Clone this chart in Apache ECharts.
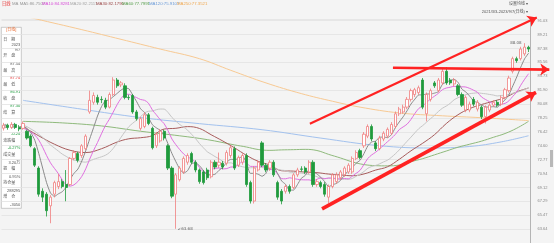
<!DOCTYPE html>
<html><head><meta charset="utf-8">
<script src="https://cdn.jsdelivr.net/npm/echarts@6/dist/echarts.min.js"></script>
<style>html,body{margin:0;padding:0;background:#f4f4f4}#c{width:554px;height:243px}</style>
</head><body><div id="c"></div>
<script>
// candles: [open, close, low, high]
const ohlc = [
[76.9,77.3,76.6,77.6],[77.3,77.0,76.7,77.5],[77.0,77.4,76.8,77.7],[77.4,77.0,76.8,77.6],[77.0,76.8,76.5,77.3],
[76.88,77.52,76.7,77.8],[76.50,75.61,75.4,76.7],[75.86,74.59,74.4,76.1],[74.21,72.04,71.8,74.4],[71.66,68.23,67.9,71.9],
[68.61,67.84,67.2,69.0],[68.23,66.06,65.30,68.5],[66.70,67.84,64.41,68.1],[68.23,69.75,67.8,70.0],[69.24,69.88,68.9,70.9],
[69.88,69.24,69.0,70.2],[69.50,69.11,67.3,71.4],[69.50,72.93,69.3,73.1],[72.93,73.70,72.7,74.0],[73.57,72.68,72.4,73.8],
[73.31,74.59,73.0,74.8],[74.21,75.86,74.0,76.1],[79.04,80.56,78.79,81.84],[80.31,81.20,80.0,81.6],[80.95,80.31,80.0,81.3],
[80.69,80.65,80.2,81.1],[80.56,79.67,79.4,80.9],[79.67,81.33,79.5,81.6],[81.33,83.23,81.1,83.6],[83.23,82.47,82.2,83.5],
[82.60,82.85,82.3,83.1],[82.47,80.95,80.7,82.8],[80.95,80.90,80.6,81.3],[81.20,79.04,78.8,81.4],[79.04,78.15,77.9,79.3],
[76.88,78.15,76.6,78.4],[77.13,78.66,76.9,79.0],[78.66,77.52,77.3,78.9],[76.88,74.33,74.1,77.1],[74.59,76.11,74.3,76.4],
[75.23,76.50,75.0,76.8],[76.50,75.61,75.3,76.7],[74.59,71.66,71.4,74.8],[71.66,67.97,67.7,71.9],[68.23,70.77,63.68,71.0],
[70.13,71.66,69.9,71.9],[71.15,72.93,70.9,73.2],[72.43,73.31,72.1,73.6],[73.57,72.43,72.2,73.8],[72.43,71.41,71.1,72.7],
[71.41,69.88,69.6,71.6],[71.15,69.75,69.5,71.4],[71.41,70.39,70.1,71.7],[70.52,72.43,70.3,72.7],[72.43,71.79,71.5,72.7],
[72.04,72.43,71.7,73.7],[72.30,71.79,71.5,72.6],[72.30,73.70,72.0,74.0],[73.31,74.33,73.0,74.6],[74.21,71.66,71.4,74.5],
[72.04,73.06,71.8,73.3],[72.43,73.31,72.1,73.6],[73.31,69.50,69.2,73.6],[69.75,67.33,67.0,70.0],[67.33,71.66,67.0,71.9],
[71.41,72.43,71.2,72.7],[74.97,72.04,71.8,75.2],[72.04,71.41,71.1,72.3],[71.66,72.43,71.3,72.7],[72.43,70.77,70.5,72.7],
[69.75,67.84,67.5,70.0],[68.61,67.33,66.9,68.9],[68.61,69.24,68.3,69.5],[69.24,68.61,68.3,69.5],[69.11,70.77,68.9,71.0],
[70.77,71.41,70.5,71.7],[71.55,71.50,71.2,71.9],[71.66,71.15,70.9,71.9],[71.15,72.43,70.9,72.7],[72.43,69.50,69.2,72.7],
[69.50,69.88,69.2,70.2],[69.75,69.24,69.0,70.0],[69.50,68.23,67.9,69.8],[67.84,69.24,67.0,69.5],[69.24,70.77,69.0,71.0],
[69.88,70.77,69.6,71.1],[70.39,71.15,70.1,71.4],[70.77,71.66,70.5,71.9],[71.15,72.04,70.9,72.3],[71.15,72.93,70.9,73.2],
[72.93,73.70,72.7,74.0],[73.95,73.06,72.8,74.2],[74.59,76.11,74.3,76.4],[75.86,77.13,75.6,77.4],[77.13,75.48,75.2,77.4],
[74.97,74.21,73.9,75.2],[74.21,75.61,74.0,75.9],[75.48,76.24,75.2,76.5],[75.86,76.75,75.6,77.0],[76.24,77.39,76.0,77.7],
[77.13,78.79,76.9,79.1],[78.79,79.42,78.5,79.7],[79.04,79.67,78.8,80.0],[79.67,80.69,79.4,81.0],[80.69,81.84,80.4,82.1],
[81.33,81.96,81.0,82.2],[81.58,82.22,81.3,82.5],[83.23,79.67,79.4,83.5],[78.79,81.33,77.8,81.6],[80.69,81.84,80.4,82.1],
[82.85,82.47,82.2,83.1],[81.84,83.23,81.6,83.5],[82.85,84.38,82.6,84.7],[84.38,82.85,82.6,84.9],[83.23,82.85,82.6,83.5],
[82.72,83.23,82.4,83.5],[82.47,81.33,81.1,82.7],[81.33,79.93,79.7,81.6],[79.29,80.95,79.0,81.2],[79.29,80.06,79.0,80.4],
[80.69,80.06,79.8,81.0],[79.42,80.31,79.1,80.6],[79.67,78.41,78.1,79.9],[78.41,79.67,77.52,79.9],[79.29,79.93,79.0,80.2],
[79.93,80.31,79.7,80.6],[80.31,79.93,79.7,80.6],[80.06,80.95,79.8,81.2],[80.95,81.96,80.7,82.2],[81.84,83.49,81.6,83.8],
[84.38,86.04,84.1,86.3],[86.04,85.78,85.5,86.3],[86.04,87.30,85.8,87.6],[86.67,87.56,86.4,88.08],[87.54,87.30,86.91,87.74]
];
const categories = ohlc.map((d, i) => String(i));

const yTickLabels = ['63.64','65.47','67.29','69.12','70.94','72.77','74.60','76.42','78.25','80.08','81.90','83.73','85.56','87.38','89.21','91.03'];

const ma5Start = 4;
const ma5 = [77.10,77.14,76.87,76.30,75.31,73.60,71.66,69.75,68.40,67.94,68.27,68.55,69.16,70.18,70.97,71.53,72.60,73.95,75.48,76.98,
78.50,79.72,80.48,80.63,81.04,81.47,81.91,82.17,82.08,81.24,80.38,79.44,78.98,78.30,77.36,76.95,76.62,76.01,74.84,73.57,
72.50,71.53,71.00,71.33,72.22,72.35,71.99,71.36,70.77,70.77,70.85,71.36,71.77,72.43,72.81,72.78,72.91,73.21,72.37,70.97,
70.97,70.85,70.59,70.97,71.99,71.82,70.90,69.96,69.52,68.76,68.76,69.47,70.31,70.69,71.45,71.20,70.89,70.44,69.86,69.22,
69.47,69.65,70.03,70.72,71.28,71.71,72.30,72.68,73.57,74.59,75.10,75.20,75.71,75.73,75.66,76.04,76.96,77.72,78.40,79.19,
80.08,80.72,81.28,81.28,81.40,81.40,81.51,81.71,82.65,82.95,83.16,83.31,82.93,82.04,81.66,81.10,80.47,80.26,79.96,79.70,
79.68,79.73,79.65,80.16,80.62,81.33,82.47,83.64,84.91,86.03,86.75];

const ma10Start = 5;
const ma10 = [76.9,76.7,76.4,76.0,75.35,74.40,73.31,72.35,71.63,70.94,70.11,69.46,69.29,69.46,69.90,70.58,71.56,72.83,73.98,75.02,
76.16,77.22,78.06,79.01,79.99,80.81,81.32,81.36,81.14,80.92,80.67,80.57,80.19,79.30,78.67,78.03,77.50,76.57,75.47,74.73,
74.08,73.51,73.09,72.90,72.43,71.76,71.18,71.05,71.50,71.60,71.68,71.56,71.60,71.79,71.82,72.13,72.49,72.40,71.89,71.88,
71.88,71.90,71.67,71.48,71.39,70.87,70.27,70.25,70.38,70.29,70.19,70.13,70.11,70.11,69.98,70.18,70.37,70.27,70.34,70.34,
70.27,70.24,70.29,70.25,70.59,70.97,71.36,72.14,72.93,73.40,73.75,74.19,74.65,75.12,75.57,76.08,76.71,77.07,77.43,78.06,
78.84,79.50,79.84,80.30,80.74,81.11,81.49,81.96,82.18,82.28,82.41,82.32,82.34,82.31,82.13,81.89,81.60,81.00,80.68,80.39,
80.10,79.96,80.06,80.16,80.50,81.10,81.65,82.54,83.33,84.06];

const ma20Start = 5;
const ma20 = [77.3,77.1,76.8,76.5,76.1,75.7,75.2,74.7,74.3,73.9,73.5,73.2,72.9,72.7,
72.63,72.49,72.44,72.59,72.81,72.98,73.14,73.34,73.68,74.24,74.95,75.70,76.44,77.10,77.56,77.97,78.42,78.90,79.13,79.16,
79.33,79.42,79.41,78.97,78.31,77.83,77.38,77.04,76.64,76.10,75.55,74.90,74.34,73.81,73.49,73.17,72.88,72.54,72.35,72.35,
72.13,71.95,71.84,71.73,71.70,71.74,71.78,71.73,71.64,71.64,71.61,71.50,71.38,71.33,71.14,71.09,71.04,71.02,70.89,70.80,
70.69,70.53,70.32,70.26,70.36,70.32,70.23,70.19,70.20,70.18,70.29,70.58,70.87,71.21,71.64,71.87,72.01,72.22,72.47,72.69,
73.08,73.53,74.04,74.61,75.18,75.73,76.30,76.85,77.25,77.71,78.16,78.60,79.10,79.52,79.81,80.17,80.63,80.91,81.09,81.31,
81.44,81.50,81.55,81.48,81.43,81.34,81.26,81.14,81.20,81.24,81.32,81.50,81.63,81.77,82.01,82.21];

// [candle index, value] read at sample points
const ma30 = [[5,77.1],[9,75.9],[13,74.8],[17,74.0],[21,73.7],[25,74.2],[29,75.08],[32,75.51],[35,75.65],[38,75.92],[41,76.79],
[44,76.89],[47,77.11],[50,76.87],[53,76.04],[56,75.21],[59,74.31],[62,73.34],[65,72.55],[68,72.06],[71,71.31],[74,71.26],[77,71.13],
[80,71.06],[83,70.87],[86,70.76],[89,70.65],[92,70.89],[95,71.40],[98,71.83],[101,72.81],[104,73.93],[107,74.93],[110,76.05],
[113,77.51],[116,78.67],[119,79.48],[122,80.01],[125,80.45],[128,80.92],[131,81.68],[134,82.18]];
const ma60 = [[5,77.8],[15,77.6],[25,77.2],[35,76.5],[45,75.9],[52,75.4],[59,74.7],[62,74.43],[65,74.10],[68,73.99],[71,74.05],
[74,74.08],[77,74.12],[80,73.97],[83,73.46],[86,72.99],[89,72.48],[92,72.12],[95,71.98],[98,71.95],[101,72.06],[104,72.50],
[107,72.9],[110,73.4],[113,73.9],[116,74.4],[119,74.8],[122,75.2],[125,75.7],[128,76.2],[131,76.9],[134,77.80]];
const ma120 = [[5,80.56],[20,79.4],[35,78.3],[50,77.5],[66,76.7],[81,75.6],[96,74.6],[109,74.3],[119,74.5],[127,75.1],[134,75.91]];
const ma250 = [[4,91.8],[8,91.3],[20,89.85],[30,88.58],[40,87.30],[50,86.04],[58,84.51],[67,82.85],[76,81.45],[84,80.44],
[91,79.67],[101,78.91],[112,78.53],[122,78.28],[134,77.90]];

const legendTexts = ['日线','MA MA5:86.7507','MA10:84.8281','MA20:82.2111','MA30:82.1790','MA60:77.7991','MA120:75.9107','MA250:77.3521'];

const infoHeader = '[日线]';
const infoDate = ['日　期','2023','9/7'];
const infoLabels = ['开　盘','最　高','最　低','收　盘','结　算','涨　跌','涨跌幅','成交量','振　幅','持仓量','增　仓'];
const infoValues = ['87.54','87.74','86.91','87.30','','-0.24','-0.27%','3.20万','0.95%','288295','-3050'];
const infoValueColors = ['#555','#e83030','#1a9a3a','#1a9a3a','#555','#1a9a3a','#1a9a3a','#555','#555','#555','#555'];

// annotation arrows: [candle index, price] start and end
const arrows = [
  {from:[78.2,77.5], to:[136.1,91.45], width:2.2},
  {from:[99.4,84.85], to:[139.3,84.6], width:2.6},
  {from:[81.3,66.3], to:[135.9,81.6], width:3.6}
];

const F = 'Liberation Sans, Noto Sans CJK SC, sans-serif';
const COL = {ma5:'#8a8a8a', ma10:'#e070e0', ma20:'#c6c6c6', ma30:'#a85c5c', ma60:'#8fba7c', ma120:'#a3c2ee', ma250:'#f7c993'};
const legendColors = ['#e83030','#999999','#d850d8','#a8a8a8','#9c4a4a','#5aa050','#6a9ad8','#f0a850'];
const legendX = [2,12,42,70,96,122,149,177];

const chart = echarts.init(document.getElementById('c'), null, {renderer:'canvas'});

function line(name, data, color, smooth) {
  return {name, type:'line', xAxisIndex:1, yAxisIndex:0, data, symbol:'none', smooth: smooth,
    lineStyle:{color, width:1}, itemStyle:{color}, silent:true, z:3, clip:true};
}
const seq = (arr, start) => arr.map((v, k) => [k + start, v]);

const graphics = [];
legendTexts.forEach((t, k) => graphics.push({type:'text', left:legendX[k], top:2,
  style:{text:t, fill:legendColors[k], font:'4.3px ' + F}}));
// info box
const box = {type:'group', left:1, top:27, z:20, children:[]};
box.children.push({type:'rect', shape:{x:0,y:0,width:20,height:181}, style:{fill:'#fff', stroke:'#a8a8a8', lineWidth:0.6}});
box.children.push({type:'text', x:10, y:3, style:{text:infoHeader, fill:'#e86a30', font:'4px ' + F, textAlign:'center', textVerticalAlign:'middle'}});
box.children.push({type:'text', x:2, y:13, style:{text:infoDate[0], fill:'#555', font:'4px ' + F, textVerticalAlign:'middle'}});
box.children.push({type:'text', x:19, y:18, style:{text:infoDate[1], fill:'#555', font:'4px ' + F, textAlign:'right', textVerticalAlign:'middle'}});
box.children.push({type:'text', x:19, y:23, style:{text:infoDate[2], fill:'#555', font:'4px ' + F, textAlign:'right', textVerticalAlign:'middle'}});
infoLabels.forEach((t, k) => {
  const y0 = 29 + k * 14.1;
  box.children.push({type:'text', x:2, y:y0, style:{text:t, fill:'#555', font:'4px ' + F, textVerticalAlign:'middle'}});
  box.children.push({type:'text', x:19, y:y0 + 7.4, style:{text:infoValues[k], fill:infoValueColors[k], font:'4px ' + F, textAlign:'right', textVerticalAlign:'middle'}});
});
graphics.push(box);
graphics.push({type:'text', right:26, top:2, style:{text:'设置均线 ▾', fill:'#555', font:'4px ' + F}});
graphics.push({type:'text', right:26, top:9.5, style:{text:'2021/3/3-2023/9/7(日线) ▾', fill:'#555', font:'4px ' + F}});
graphics.push({type:'rect', left:550, top:150, shape:{width:3, height:17}, style:{fill:'#b8b8b8'}});

const option = {
  animation:false,
  backgroundColor:'#f4f4f4',
  grid:{left:1.5, right:23.5, top:19.3, bottom:-7.2},
  xAxis:[
    {type:'category', data:categories, show:false, boundaryGap:true},
    {type:'value', min:-0.5, max:134.5, show:false}
  ],
  yAxis:[
    {type:'value', min:63.64 - 1.826, max:63.64 + 15.1 * 1.826, show:false},
    {type:'value', min:-1, max:15.1, interval:1, position:'right', show:true,
      axisLine:{show:true, onZero:false, lineStyle:{color:'#b4b4b4', width:1}}, axisTick:{show:false},
      axisLabel:{show:true, fontSize:4, color:'#888', margin:7,
        formatter:function (v) { const r = Math.round(v); return (Math.abs(v - r) < 1e-6 && r >= 0 && r <= 15) ? yTickLabels[r] : ''; }},
      splitLine:{show:true, lineStyle:{color:'#e2e2e2', width:0.8}}}
  ],
  series:[
    line('MA250', ma250, COL.ma250, 0.4),
    line('MA120', ma120, COL.ma120, 0.4),
    line('MA60', ma60, COL.ma60, 0.4),
    line('MA30', ma30, COL.ma30, 0.4),
    line('MA20', seq(ma20, ma20Start), COL.ma20, 0.3),
    line('MA10', seq(ma10, ma10Start), COL.ma10, 0.3),
    line('MA5', seq(ma5, ma5Start), COL.ma5, 0.2),
    {name:'K', type:'candlestick', xAxisIndex:0, yAxisIndex:0, data:ohlc, barWidth:'68%', z:4,
      itemStyle:{color:'#ffffff', color0:'#1f9a3c', borderColor:'#f07f7f', borderColor0:'#1f9a3c', borderWidth:0.8},
      markPoint:{symbol:'circle', symbolSize:0, silent:true,
        label:{show:true, fontSize:4, color:'#666', fontFamily:'DejaVu Sans'},
        data:[
          {type:'max', valueDim:'highest', label:{position:'left', distance:3, formatter:p => p.value.toFixed(2)}},
          {type:'min', valueDim:'lowest', label:{position:'right', distance:2, formatter:p => '↙' + p.value.toFixed(2)}}
        ]}},
    {name:'arrows', type:'lines', coordinateSystem:'cartesian2d', xAxisIndex:1, yAxisIndex:0, clip:false, silent:true, z:6,
      symbol:['none','arrow'], symbolSize:9,
      data: arrows.map(a => ({coords:[a.from, a.to], lineStyle:{color:'#ff2222', width:a.width, opacity:1}})),
      lineStyle:{color:'#ff2222', opacity:1}},
    {name:'axisHolder', type:'line', xAxisIndex:1, yAxisIndex:1, data:[[0, 0], [134, 15]], symbol:'none',
      lineStyle:{opacity:0}, silent:true}
  ],
  graphic: graphics
};
chart.setOption(option);
</script></body></html>
